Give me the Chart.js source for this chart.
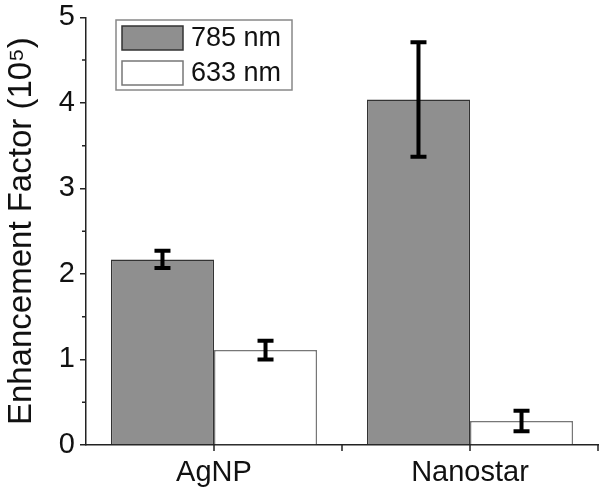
<!DOCTYPE html>
<html>
<head>
<meta charset="utf-8">
<script src="https://cdn.jsdelivr.net/npm/chart.js@4/dist/chart.umd.min.js"></script>
<style>
  html, body { margin: 0; padding: 0; background: #fff; }
  #wrap { width: 600px; height: 489px; }
</style>
</head>
<body>
<div id="wrap"><canvas id="efChart"></canvas></div>
<script>
// data (units of 10^5)
const categories = ['AgNP', 'Nanostar'];
const labels785 = '785 nm';
const labels633 = '633 nm';
const ef785 = [2.17, 4.04];
const err785 = [0.10, 0.67];
const ef633 = [1.11, 0.28];
const err633 = [0.11, 0.12];
const yTicks = [0, 1, 2, 3, 4, 5];

const FONT = "'Liberation Sans', Arial, sans-serif";

// error bars, minor ticks, x ticks and the boxed legend
const extras = {
    id: 'extras',
    afterDatasetsDraw(chart) {
        const ctx = chart.ctx;
        const y = chart.scales.y;
        const errs = [err785, err633];
        ctx.save();
        ctx.strokeStyle = '#000';
        ctx.lineWidth = 4;
        chart.data.datasets.forEach((ds, di) => {
            chart.getDatasetMeta(di).data.forEach((bar, i) => {
                const v = ds.data[i], e = errs[di][i];
                const top = y.getPixelForValue(v + e);
                const bot = y.getPixelForValue(v - e);
                ctx.beginPath();
                ctx.moveTo(bar.x, top); ctx.lineTo(bar.x, bot);
                ctx.moveTo(bar.x - 8, top); ctx.lineTo(bar.x + 8, top);
                ctx.moveTo(bar.x - 8, bot); ctx.lineTo(bar.x + 8, bot);
                ctx.stroke();
            });
        });
        ctx.restore();
    },
    afterDraw(chart) {
        const ctx = chart.ctx;
        const { x, y } = chart.scales;
        const area = chart.chartArea;
        ctx.save();
        ctx.strokeStyle = '#222';
        ctx.lineWidth = 1.5;
        // minor y ticks
        ctx.beginPath();
        for (let v = 0.5; v < 5; v += 1) {
            const py = y.getPixelForValue(v);
            ctx.moveTo(area.left - 4, py); ctx.lineTo(area.left, py);
        }
        // x ticks at category centres and boundaries
        categories.forEach((c, i) => {
            const cx = x.getPixelForValue(i);
            const half = (x.getPixelForValue(1) - x.getPixelForValue(0)) / 2;
            [cx, cx + half].forEach(px => {
                ctx.moveTo(px, area.bottom); ctx.lineTo(px, area.bottom + 6);
            });
        });
        ctx.stroke();

        // legend box
        const ds = chart.data.datasets;
        ctx.strokeStyle = '#888';
        ctx.lineWidth = 1.5;
        ctx.strokeRect(116, 20, 176, 70);
        ds.forEach((d, i) => {
            const sy = 26 + i * 35;
            ctx.fillStyle = d.backgroundColor;
            ctx.fillRect(122, sy, 61, 24);
            ctx.strokeStyle = d.borderColor;
            ctx.strokeRect(122, sy, 61, 24);
            ctx.fillStyle = '#111';
            ctx.font = '27px ' + FONT;
            ctx.textBaseline = 'middle';
            ctx.fillText(d.label, 191, sy + 13);
        });
        ctx.restore();
    }
};

new Chart(document.getElementById('efChart'), {
    type: 'bar',
    data: {
        labels: categories,
        datasets: [
            { label: labels785, data: ef785, backgroundColor: '#8f8f8f', borderColor: '#333', borderWidth: 1.5 },
            { label: labels633, data: ef633, backgroundColor: '#ffffff', borderColor: '#777', borderWidth: 1.5 }
        ]
    },
    options: {
        responsive: true,
        maintainAspectRatio: false,
        animation: false,
        layout: { padding: { top: 0, right: 2, left: 0, bottom: 0 } },
        datasets: { bar: { categoryPercentage: 0.805, barPercentage: 1.0 } },
        plugins: {
            legend: { display: false },
            tooltip: { enabled: false }
        },
        scales: {
            x: {
                grid: { display: false },
                border: { display: true, color: '#222', width: 1.5 },
                ticks: { color: '#111', font: { family: FONT, size: 29 }, padding: 3 },
                afterFit(s) { s.height = 44; }
            },
            y: {
                min: 0,
                max: 5,
                afterBuildTicks(s) { s.ticks = yTicks.map(v => ({ value: v })); },
                grid: { drawOnChartArea: false, tickLength: 6, color: '#222', lineWidth: 1.5 },
                border: { display: true, color: '#222', width: 1.5 },
                ticks: { color: '#111', font: { family: FONT, size: 29, lineHeight: 0.85 }, padding: 5 },
                title: {
                    display: true,
                    text: 'Enhancement Factor (10\u2075)',
                    color: '#111',
                    font: { family: FONT, size: 33 },
                    padding: { top: 2, bottom: 0 }
                },
                afterFit(s) { s.width = 86; }
            }
        }
    },
    plugins: [extras]
});
</script>
</body>
</html>
